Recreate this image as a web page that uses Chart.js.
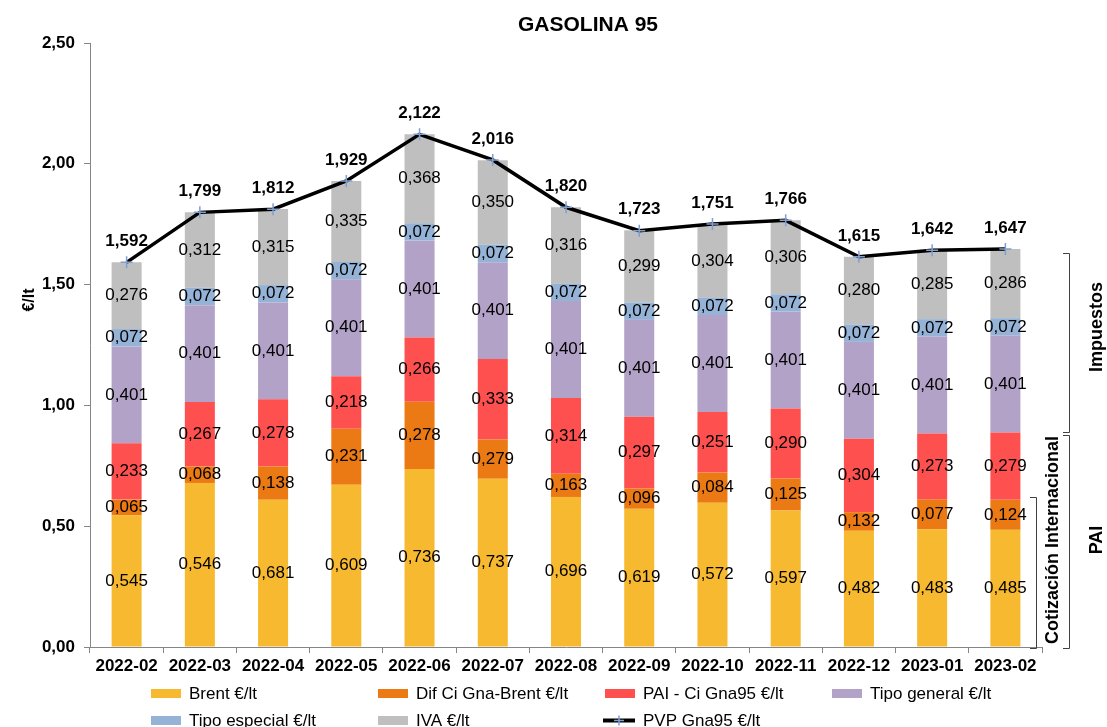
<!DOCTYPE html>
<html><head><meta charset="utf-8">
<script src="https://cdn.jsdelivr.net/npm/chart.js@4.4.1/dist/chart.umd.min.js"></script>
<style>html,body{margin:0;padding:0;background:#fff}#wrap{width:1107px;height:727px;position:relative}</style>
</head><body><div id="wrap"><canvas id="c" width="1107" height="727"></canvas></div>
<script>
var meses=['2022-02','2022-03','2022-04','2022-05','2022-06','2022-07','2022-08','2022-09','2022-10','2022-11','2022-12','2023-01','2023-02'];
// bar heights
var brent=[0.545,0.679,0.609,0.672,0.737,0.696,0.621,0.572,0.597,0.565,0.481,0.487,0.485];
var dif=[0.065,0.068,0.138,0.231,0.278,0.163,0.096,0.084,0.125,0.132,0.077,0.124,0.124];
var pai=[0.233,0.267,0.278,0.218,0.266,0.333,0.314,0.297,0.251,0.290,0.304,0.273,0.279];
var tgeneral=[0.401,0.401,0.401,0.401,0.401,0.401,0.401,0.401,0.401,0.401,0.401,0.401,0.401];
var tespecial=[0.072,0.072,0.072,0.072,0.072,0.072,0.072,0.072,0.072,0.072,0.072,0.072,0.072];
var iva=[0.276,0.312,0.315,0.335,0.368,0.350,0.316,0.299,0.304,0.306,0.280,0.285,0.286];
var pvp=[1.592,1.799,1.812,1.929,2.122,2.016,1.820,1.723,1.751,1.766,1.615,1.642,1.647];
// labels printed on the brent / dif segments (as in the original, they don't always match the bars)
var brent_lbl=[0.545,0.546,0.681,0.609,0.736,0.737,0.696,0.619,0.572,0.597,0.482,0.483,0.485];
var dif_lbl=[0.065,0.068,0.138,0.231,0.278,0.279,0.163,0.096,0.084,0.125,0.132,0.077,0.124];
var y_ticks=[0,0.5,1,1.5,2,2.5];

var FONT='"Liberation Sans", Arial, sans-serif';
var fmt=function(v,d){return v.toFixed(d).replace('.',',');};
var mk=function(lab,arr,col,lbl){return {type:'bar',label:lab,data:arr,backgroundColor:col,borderWidth:0,stack:'a',order:2,
	categoryPercentage:1,barPercentage:0.41,lbl:lbl||arr};};

var decor={id:'decor',
	afterDatasetsDraw:function(ch){var ctx=ch.ctx;ctx.save();ctx.textAlign='center';ctx.textBaseline='middle';ctx.fillStyle='#000';
		ch.data.datasets.forEach(function(ds,i){var meta=ch.getDatasetMeta(i);
			meta.data.forEach(function(el,j){
				if(ds.type=='bar'){ctx.font='17px '+FONT;ctx.fillText(fmt(ds.lbl[j],3),el.x,(el.y+el.base)/2);}
				else{ctx.font='bold 17px '+FONT;ctx.fillText(fmt(ds.data[j],3),el.x,el.y-21);}
			});
		});ctx.restore();},
	afterDraw:function(ch){var ctx=ch.ctx;ctx.save();ctx.fillStyle='#000';ctx.textAlign='center';ctx.textBaseline='middle';
		ctx.font='bold 21px '+FONT;ctx.fillText('GASOLINA 95',588,25);
		var rot=function(t,x,y,f){ctx.save();ctx.translate(x,y);ctx.rotate(-Math.PI/2);ctx.font=f;ctx.fillText(t,0,0);ctx.restore();};
		rot('€/lt',30,300,'bold 16px '+FONT);
		rot('Impuestos',1097,327,'bold 18px '+FONT);
		rot('PAI',1097,540,'bold 18px '+FONT);
		rot('Cotización Internacional',1053,540,'bold 18px '+FONT);
		// brackets
		ctx.strokeStyle='#404040';ctx.lineWidth=1;
		var br=function(x,y1,y2){ctx.beginPath();ctx.moveTo(x-6,y1+0.5);ctx.lineTo(x+0.5,y1+0.5);ctx.lineTo(x+0.5,y2+0.5);ctx.lineTo(x-6,y2+0.5);ctx.stroke();};
		br(1069,253,432);br(1069,435,648);br(1036,497,648);
		// legend
		var cols=[151,378,605,832],rows=[693.5,720.5];
		ctx.textAlign='left';ctx.font='17px '+FONT;
		ch.data.datasets.forEach(function(ds,i){var x=cols[i%4],y=rows[Math.floor(i/4)];
			if(ds.type=='bar'){ctx.fillStyle=ds.backgroundColor;ctx.fillRect(x,y-4.5,30,9);}
			else{ctx.strokeStyle='#000';ctx.lineWidth=4;ctx.beginPath();ctx.moveTo(x-2,y);ctx.lineTo(x+30,y);ctx.stroke();
				ctx.strokeStyle=ds.pointBorderColor;ctx.lineWidth=1.5;ctx.beginPath();ctx.moveTo(x+14,y-5);ctx.lineTo(x+14,y+5);ctx.moveTo(x+9,y);ctx.lineTo(x+19,y);ctx.stroke();}
			ctx.fillStyle='#000';ctx.fillText(ds.label,x+38,y+1);
		});
		ctx.restore();}
};

new Chart(document.getElementById('c'),{
	data:{labels:meses,datasets:[
		mk('Brent €/lt',brent,'#F7B92F',brent_lbl),
		mk('Dif Ci Gna-Brent €/lt',dif,'#EB7A14',dif_lbl),
		mk('PAI - Ci Gna95 €/lt',pai,'#FF5050'),
		mk('Tipo general €/lt',tgeneral,'#B3A2C7'),
		mk('Tipo especial €/lt',tespecial,'#95B3D7'),
		mk('IVA €/lt',iva,'#BFBFBF'),
		{type:'line',label:'PVP Gna95 €/lt',data:pvp,stack:'pvp',order:0,borderColor:'#000',borderWidth:3.5,tension:0,
			pointStyle:'cross',pointRadius:6,pointBorderColor:'#7F9FD0',pointBorderWidth:1.5,pointBackgroundColor:'#7F9FD0'}
	]},
	options:{responsive:false,animation:false,devicePixelRatio:1,
		layout:{padding:{left:0,top:43,right:65,bottom:0}},
		plugins:{legend:{display:false},title:{display:false},tooltip:{enabled:false}},
		scales:{
			x:{stacked:true,offset:true,
				grid:{offset:true,drawOnChartArea:false,tickLength:6,color:'#868686'},
				border:{color:'#868686'},
				ticks:{color:'#000',font:{family:FONT,size:17,weight:'bold'},padding:3,maxRotation:0,autoSkip:false},
				afterFit:function(s){s.height=80;}},
			y:{stacked:true,min:0,max:2.5,
				afterBuildTicks:function(s){s.ticks=y_ticks.map(function(v){return {value:v};});},
				grid:{drawOnChartArea:false,tickLength:6,color:'#868686'},
				border:{color:'#868686'},
				ticks:{color:'#000',font:{family:FONT,size:17,weight:'bold'},padding:9,callback:function(v){return fmt(v,2);}},
				afterFit:function(s){s.width=90;}}
		}},
	plugins:[decor]
});
</script>
</body></html>
